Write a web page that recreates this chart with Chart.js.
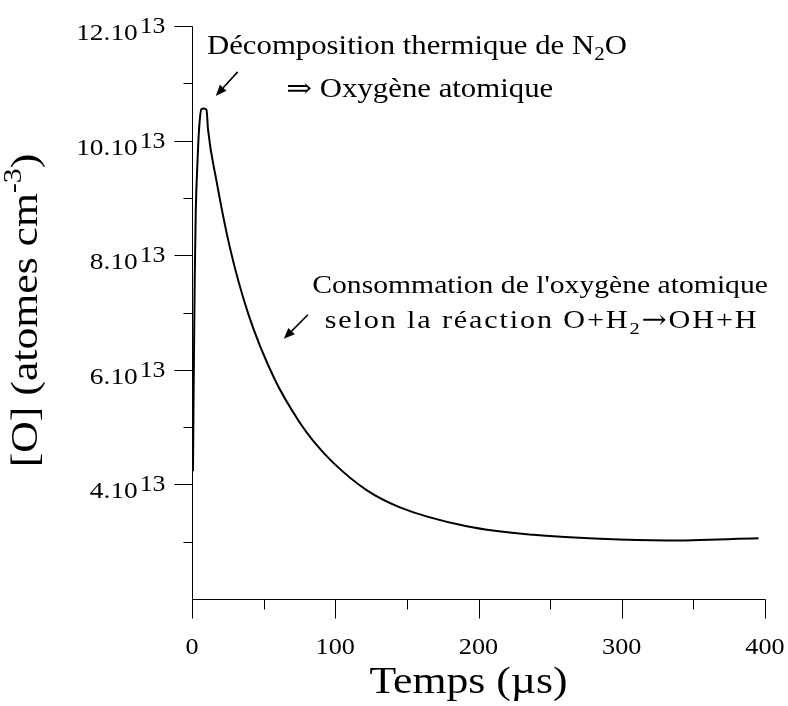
<!DOCTYPE html>
<html><head><meta charset="utf-8">
<script src="https://cdn.jsdelivr.net/npm/chart.js@4.4.1/dist/chart.umd.min.js"></script>
<style>html,body{margin:0;padding:0;background:#fff}#wrap{width:788px;height:706px;position:relative}</style>
</head><body><div id="wrap"><canvas id="c"></canvas></div>
<script>
// Data: time (µs) and [O] in units of 1e13 atoms cm^-3
const timeUs = [0.7, 1.2, 1.9, 2.6, 3.8, 4.9, 6.6, 8.2, 10.1, 11.2, 17, 26.3, 39.1, 57.8, 75.2, 84.6, 98.5, 121.9, 145.1, 191.8, 238.3, 284.9, 331.5, 395.5];
const oxygen = [4.23, 5.82, 7.57, 8.74, 9.61, 10.19, 10.55, 10.56, 10.54, 10.19, 9.31, 8.15, 6.99, 5.83, 5.08, 4.76, 4.38, 3.90, 3.60, 3.27, 3.12, 3.05, 3.02, 3.06];
const xMajorTicks = [0, 100, 200, 300, 400];
const xMinorTicks = [50, 150, 250, 350];
const yMajorTicks = [4, 6, 8, 10, 12];
const yMinorTicks = [3, 5, 7, 9, 11];
const yTickMantissa = ['4.10', '6.10', '8.10', '10.10', '12.10'];
const yTickExponent = '13';
const xTitle = 'Temps (µs)';
const yTitleRuns = [{t: '[O] (atomes cm'}, {t: '-3', sup: true}, {t: ')'}];
const note1Line1 = [{t: 'Décomposition thermique de N'}, {t: '2', sub: true}, {t: 'O'}];
const note1Line2 = [{t: '\u21D2', sym: true}, {t: ' Oxygène atomique'}];
const note2Line1 = [{t: "Consommation de l'oxygène atomique"}];
const note2Line2 = [{t: 'selon la réaction O+H'}, {t: '2', sub: true}, {t: '\u2192', sym: true}, {t: 'OH+H'}];

const FONT = '"Liberation Serif", "Times New Roman", serif';
const SYMFONT = '"DejaVu Serif", serif';

function runFont(r, size) {
  const s = (r.sub || r.sup) ? size * 0.68 : size;
  return s + 'px ' + (r.sym ? SYMFONT : FONT);
}
function runsWidth(ctx, runs, size, ls) {
  let w = 0;
  for (const r of runs) {
    ctx.font = runFont(r, size);
    w += ls ? [...r.t].reduce((s, ch) => s + ctx.measureText(ch).width + ls, 0) : ctx.measureText(r.t).width;
  }
  return w;
}
function drawRuns(ctx, runs, x, y, size, align, stretch, rot, ls) {
  ctx.save();
  ctx.translate(x, y);
  if (rot) ctx.rotate(rot);
  ctx.scale(stretch, 1);
  const w = runsWidth(ctx, runs, size, ls);
  let cx = align === 'center' ? -w / 2 : (align === 'right' ? -w : 0);
  ctx.textAlign = 'left';
  ctx.textBaseline = 'alphabetic';
  ctx.fillStyle = '#000';
  for (const r of runs) {
    ctx.font = runFont(r, size);
    const dy = r.sub ? size * 0.22 : (r.sup ? -size * 0.42 : 0);
    if (ls) {
      for (const ch of r.t) { ctx.fillText(ch, cx, dy); cx += ctx.measureText(ch).width + ls; }
    } else {
      ctx.fillText(r.t, cx, dy);
      cx += ctx.measureText(r.t).width;
    }
  }
  ctx.restore();
}
function arrow(ctx, x1, y1, x2, y2) {
  const ang = Math.atan2(y2 - y1, x2 - x1);
  const hl = 11, hw = 4.5;
  const bx = x2 - hl * Math.cos(ang), by = y2 - hl * Math.sin(ang);
  ctx.save();
  ctx.strokeStyle = '#000'; ctx.fillStyle = '#000'; ctx.lineWidth = 1.6;
  ctx.beginPath(); ctx.moveTo(x1, y1); ctx.lineTo(bx, by); ctx.stroke();
  ctx.beginPath();
  ctx.moveTo(x2, y2);
  ctx.lineTo(bx + hw * Math.sin(ang), by - hw * Math.cos(ang));
  ctx.lineTo(bx - hw * Math.sin(ang), by + hw * Math.cos(ang));
  ctx.closePath(); ctx.fill();
  ctx.restore();
}

const axesPlugin = {
  id: 'axesPlugin',
  afterDraw(chart) {
    const ctx = chart.ctx;
    const xs = chart.scales.x, ys = chart.scales.y;
    const a = chart.chartArea;
    const X = v => xs.getPixelForValue(v);
    const Y = v => ys.getPixelForValue(v);
    const left = Math.round(a.left) + 0.5, bottom = Math.round(a.bottom) + 0.5;
    ctx.save();
    ctx.strokeStyle = '#000';
    ctx.lineWidth = 1;
    ctx.beginPath();
    ctx.moveTo(left, Math.round(a.top) + 0.5); ctx.lineTo(left, bottom);
    ctx.lineTo(Math.round(a.right) + 0.5, bottom);
    for (const v of xMajorTicks) { const px = Math.round(X(v)) + 0.5; ctx.moveTo(px, bottom); ctx.lineTo(px, bottom + 19); }
    for (const v of xMinorTicks) { const px = Math.round(X(v)) + 0.5; ctx.moveTo(px, bottom); ctx.lineTo(px, bottom + 10); }
    for (const v of yMajorTicks) { const py = Math.round(Y(v)) + 0.5; ctx.moveTo(left, py); ctx.lineTo(left - 18, py); }
    for (const v of yMinorTicks) { const py = Math.round(Y(v)) + 0.5; ctx.moveTo(left, py); ctx.lineTo(left - 9, py); }
    ctx.stroke();
    ctx.restore();

    // x tick labels
    xMajorTicks.forEach(v => drawRuns(ctx, [{t: String(v)}], X(v), bottom + 54, 23, 'center', 1.14));
    // y tick labels with exponent
    yMajorTicks.forEach((v, i) => {
      const py = Y(v);
      const rightEdge = left - 27;
      ctx.save(); ctx.font = '23px ' + FONT;
      const ew = ctx.measureText(yTickExponent).width * 1.12;
      ctx.restore();
      drawRuns(ctx, [{t: yTickExponent}], rightEdge, py + 7, 23, 'right', 1.12);
      drawRuns(ctx, [{t: yTickMantissa[i]}], rightEdge - ew - 2, py + 14, 24, 'right', 1.14);
    });
    // axis titles
    drawRuns(ctx, [{t: xTitle}], (a.left + a.right) / 2 - 10, 693, 38, 'center', 1.15);
    drawRuns(ctx, yTitleRuns, 37, (a.top + a.bottom) / 2 - 2, 38, 'center', 1.15, -Math.PI / 2);

    // annotations
    drawRuns(ctx, note1Line1, X(157), 54, 27, 'center', 1.14);
    drawRuns(ctx, note1Line2, X(159), 97, 27, 'center', 1.14);
    arrow(ctx, X(31.9), Y(11.2), X(16.6), Y(10.78));
    drawRuns(ctx, note2Line1, X(243), 293, 26, 'center', 1.14);
    drawRuns(ctx, note2Line2, X(244), 328, 26, 'center', 1.16, 0, 1.6);
    arrow(ctx, X(80.9), Y(6.96), X(64.1), Y(6.54));
  }
};

new Chart(document.getElementById('c'), {
  type: 'scatter',
  data: {
    datasets: [{
      data: timeUs.map((t, i) => ({x: t, y: oxygen[i]})),
      showLine: true,
      borderColor: '#000',
      borderWidth: 2,
      pointRadius: 0,
      cubicInterpolationMode: 'monotone',
      fill: false
    }]
  },
  options: {
    responsive: true,
    maintainAspectRatio: false,
    animation: false,
    devicePixelRatio: 1,
    layout: {padding: {left: 192, right: 23, top: 26, bottom: 107}},
    plugins: {legend: {display: false}, tooltip: {enabled: false}},
    scales: {
      x: {type: 'linear', min: 0, max: 400, display: false},
      y: {type: 'linear', min: 2, max: 12, display: false}
    }
  },
  plugins: [axesPlugin]
});
</script>
</body></html>
